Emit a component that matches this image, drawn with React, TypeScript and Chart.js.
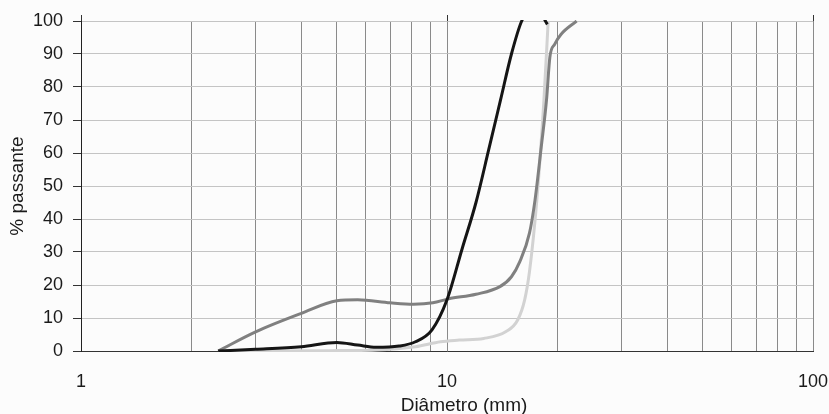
import { useEffect, useRef } from "react";
import { Chart, registerables } from "chart.js";

Chart.register(...registerables);

// Diâmetro (mm) / % passante for each curve
const blackDiameters = [2.37, 3, 4, 5, 5.7, 6.4, 7.4, 8.2, 9.1, 10, 11, 12, 13, 14, 15, 16, 17.3, 18.8];
const blackPassing = [0, 0.5, 1.3, 2.6, 1.8, 1.1, 1.5, 2.8, 6.4, 15.5, 31, 45, 61, 76, 90, 100, 105, 99];

const grayDiameters = [2.37, 3, 4, 5, 5.7, 7, 8.1, 9.15, 10.1, 12, 13.95, 15, 15.8, 16.8, 17.4, 18.1, 18.7, 19.1, 19.7, 20.5, 22.6];
const grayPassing = [0, 5.8, 11.4, 15.2, 15.5, 14.6, 14.2, 14.6, 15.8, 17.2, 19.5, 22.5, 27, 35.7, 45.8, 62, 76, 89, 93, 96, 100];

const lightDiameters = [2.37, 4.75, 6.4, 8.2, 9.6, 10.8, 12.6, 14.5, 15.6, 16.3, 16.8, 17.6, 18.4, 18.9];
const lightPassing = [0, 0.1, 0.3, 1.3, 2.8, 3.3, 3.8, 5.9, 9.4, 15.5, 24, 45.8, 76, 100];

const xGridValues = [1, 2, 3, 4, 5, 6, 7, 8, 9, 10, 20, 30, 40, 50, 60, 70, 80, 90, 100];
const xTickLabels = [1, 10, 100];

const yMin = 0;
const yMax = 100;
const yStep = 10;

const xTitle = "Diâmetro (mm)";
const yTitle = "% passante";

const FONT = "'Liberation Sans', Arial, Helvetica, sans-serif";

function toPoints(xs: number[], ys: number[]) {
  return xs.map((x, i) => ({ x, y: ys[i] }));
}

const xTitlePlugin = {
  id: "xTitlePlugin",
  afterDraw(chart: any) {
    const { ctx, chartArea } = chart;
    ctx.save();
    ctx.font = `19px ${FONT}`;
    ctx.fillStyle = "#1a1a1a";
    ctx.textAlign = "center";
    ctx.textBaseline = "middle";
    ctx.fillText(xTitle, (chartArea.left + chartArea.right) / 2 + 17, 406);
    ctx.restore();
  },
};

export default function App() {
  const ref = useRef<HTMLCanvasElement | null>(null);

  useEffect(() => {
    if (!ref.current) return;
    const common = {
      pointRadius: 0,
      pointHoverRadius: 0,
      borderWidth: 3,
      fill: false,
      cubicInterpolationMode: "monotone" as const,
      clip: 1,
    };
    const chart = new Chart(ref.current, {
      type: "line",
      data: {
        datasets: [
          { ...common, label: "A", data: toPoints(blackDiameters, blackPassing), borderColor: "#151515" },
          { ...common, label: "B", data: toPoints(grayDiameters, grayPassing), borderColor: "#808080" },
          { ...common, label: "C", data: toPoints(lightDiameters, lightPassing), borderColor: "#d2d2d2" },
        ],
      },
      plugins: [xTitlePlugin],
      options: {
        responsive: false,
        animation: false,
        events: [],
        layout: { padding: { left: 0, right: 16, top: 21, bottom: 0 } },
        plugins: {
          legend: { display: false },
          tooltip: { enabled: false },
          title: { display: false },
        },
        scales: {
          x: {
            type: "logarithmic",
            min: 1,
            max: 100,
            afterBuildTicks: (scale: any) => {
              scale.ticks = xGridValues.map((v) => ({ value: v }));
            },
            afterFit: (scale: any) => {
              scale.height = 63;
              scale.paddingLeft = 0;
              scale.paddingRight = 0;
            },
            ticks: {
              autoSkip: false,
              maxRotation: 0,
              minRotation: 0,
              padding: 20,
              color: "#1a1a1a",
              font: { family: FONT, size: 18 },
              callback: (value: any) => (xTickLabels.includes(Number(value)) ? String(value) : ""),
            },
            grid: {
              color: "#8a8a8a",
              lineWidth: 1,
              drawTicks: false,
            },
            border: { color: "#333333", width: 1 },
            title: { display: false },
          },
          xTop: {
            type: "logarithmic",
            position: "top",
            min: 1,
            max: 100,
            afterBuildTicks: (scale: any) => {
              scale.ticks = xTickLabels.map((v) => ({ value: v }));
            },
            afterFit: (scale: any) => {
              scale.height = 0;
              scale.paddingLeft = 0;
              scale.paddingRight = 0;
            },
            ticks: {
              autoSkip: false,
              maxRotation: 0,
              padding: 0,
              callback: () => "",
            },
            grid: {
              drawOnChartArea: false,
              drawTicks: true,
              tickLength: 6,
              tickColor: "#333333",
              color: "#333333",
            },
            border: { display: false },
            title: { display: false },
          },
          y: {
            type: "linear",
            min: yMin,
            max: yMax,
            afterFit: (scale: any) => {
              scale.width = 81;
            },
            ticks: {
              stepSize: yStep,
              padding: 10,
              color: "#1a1a1a",
              font: { family: FONT, size: 18 },
            },
            grid: {
              color: "#c4c4c4",
              lineWidth: 1,
              tickLength: 8,
              tickColor: "#333333",
            },
            border: { color: "#222222", width: 1 },
            title: {
              display: true,
              text: yTitle,
              color: "#1a1a1a",
              font: { family: FONT, size: 19, lineHeight: 1 },
              padding: { top: 8, bottom: 0 },
            },
          },
        },
      },
    });
    return () => chart.destroy();
  }, []);

  return (
    <div
      style={{
        position: "fixed",
        left: 0,
        top: 0,
        width: 829,
        height: 414,
        background: "#fcfcfc",
        overflow: "hidden",
      }}
    >
      <canvas ref={ref} width={829} height={414} style={{ display: "block" }} />
    </div>
  );
}
